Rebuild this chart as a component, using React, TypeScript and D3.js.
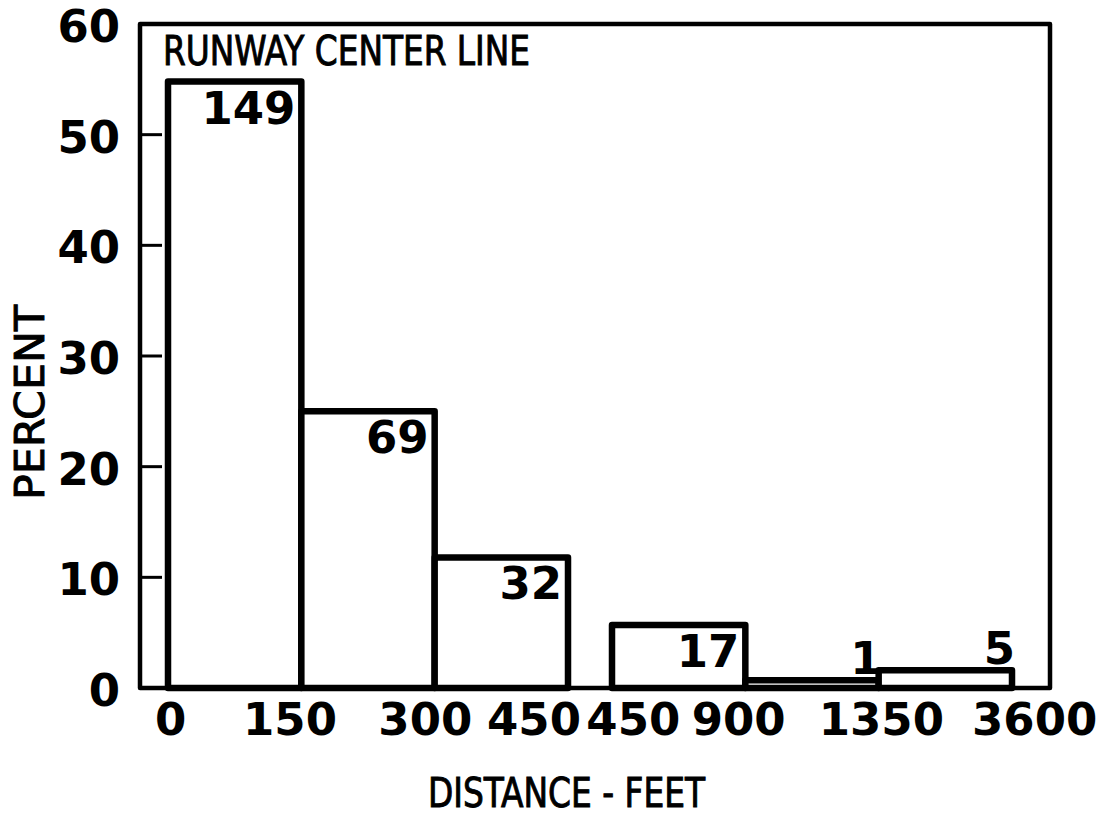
import React from 'react';
import * as d3 from 'd3';

// ---- data ----
const binLabels = ['0-150', '150-300', '300-450', '450-900', '900-1350', '1350-3600'];
const counts = [149, 69, 32, 17, 1, 5];
const percents = [54.8, 25.0, 11.8, 5.7, 0.7, 1.6];
const yTicks = [0, 10, 20, 30, 40, 50, 60];
const xTickLabels = ['0', '150', '300', '450', '450', '900', '1350', '3600'];
const xTickPos = [0.02, 0.915, 1.93, 2.745, 3.49, 4.28, 5.35, 6.5];
const title = 'RUNWAY CENTER LINE';
const xTitle = 'DISTANCE - FEET';
const yTitle = 'PERCENT';

const W = 1101;
const H = 816;
const GAP = 0.33; // empty slot fraction between 3rd and 4th bin

const frame = { left: 140, right: 1050, top: 24, bottom: 688 };

const BOLD = '"DejaVu Sans", Verdana, sans-serif';
const NARROW = '"DejaVu Sans Condensed", "Liberation Sans Narrow", "Arial Narrow", sans-serif';

export default function App() {
  const y = d3.scaleLinear().domain([0, 60]).range([frame.bottom, frame.top]);
  const x = d3.scaleLinear().domain([0, 6 + GAP]).range([168, 1012]);
  const slotStart = (i: number) => i + (i >= 3 ? GAP : 0);

  return (
    <svg
      width={W}
      height={H}
      viewBox={`0 0 ${W} ${H}`}
      style={{ position: 'absolute', left: 0, top: 0, background: '#fff' }}
    >
      <rect x={0} y={0} width={W} height={H} fill="#fff" />
      {/* frame */}
      <rect
        x={frame.left}
        y={frame.top}
        width={frame.right - frame.left}
        height={frame.bottom - frame.top}
        fill="none"
        stroke="#000"
        strokeWidth={4.5}
        strokeLinejoin="round"
      />
      {/* y ticks (inward) */}
      {yTicks
        .filter((t) => t > 0 && t < 60)
        .map((t) => (
          <line
            key={'yt' + t}
            x1={frame.left}
            x2={frame.left + 22}
            y1={y(t)}
            y2={y(t)}
            stroke="#000"
            strokeWidth={3}
          />
        ))}
      {/* y tick labels */}
      {yTicks.map((t) => (
        <text
          key={'yl' + t}
          x={120}
          y={y(t)}
          dy="0.4em"
          textAnchor="end"
          fontFamily={BOLD}
          fontWeight="bold"
          fontSize={45}
          fill="#000"
        >
          {t}
        </text>
      ))}
      {/* bars */}
      {binLabels.map((b, i) => {
        const x0 = x(slotStart(i));
        const x1 = x(slotStart(i) + 1);
        const top = y(percents[i]);
        const h = y(0) - top;
        return (
          <rect
            key={'bar' + b}
            x={x0}
            y={top}
            width={x1 - x0}
            height={h}
            fill="#fff"
            stroke="#000"
            strokeWidth={6.5}
            strokeLinejoin="round"
          />
        );
      })}
      {/* count labels */}
      {binLabels.map((b, i) => {
        const x1 = x(slotStart(i) + 1);
        const top = y(percents[i]);
        const h = y(0) - top;
        const tall = h > 45;
        return (
          <text
            key={'cnt' + b}
            x={tall ? x1 - 6 : x1 + 3}
            y={tall ? top + 42 : top - 6}
            textAnchor="end"
            fontFamily={BOLD}
            fontWeight="bold"
            fontSize={45}
            fill="#000"
          >
            {counts[i]}
          </text>
        );
      })}
      {/* x tick labels */}
      {xTickLabels.map((l, i) => (
        <text
          key={'xl' + i}
          x={x(xTickPos[i])}
          y={735}
          textAnchor="middle"
          fontFamily={BOLD}
          fontWeight="bold"
          fontSize={45}
          fill="#000"
        >
          {l}
        </text>
      ))}
      {/* title inside plot */}
      <text
        x={163}
        y={65}
        fontFamily={NARROW}
        fontSize={40}
        textLength={367}
        lengthAdjust="spacingAndGlyphs"
        fill="#000"
        stroke="#000"
        strokeWidth={0.9}
      >
        {title}
      </text>
      {/* x axis title */}
      <text
        x={428}
        y={807}
        fontFamily={NARROW}
        fontSize={40}
        textLength={277}
        lengthAdjust="spacingAndGlyphs"
        fill="#000"
        stroke="#000"
        strokeWidth={0.9}
      >
        {xTitle}
      </text>
      {/* y axis title */}
      <text
        transform={`translate(44, 500) rotate(-90)`}
        fontFamily={NARROW}
        fontSize={40}
        textLength={195}
        lengthAdjust="spacingAndGlyphs"
        fill="#000"
        stroke="#000"
        strokeWidth={0.9}
      >
        {yTitle}
      </text>
    </svg>
  );
}
